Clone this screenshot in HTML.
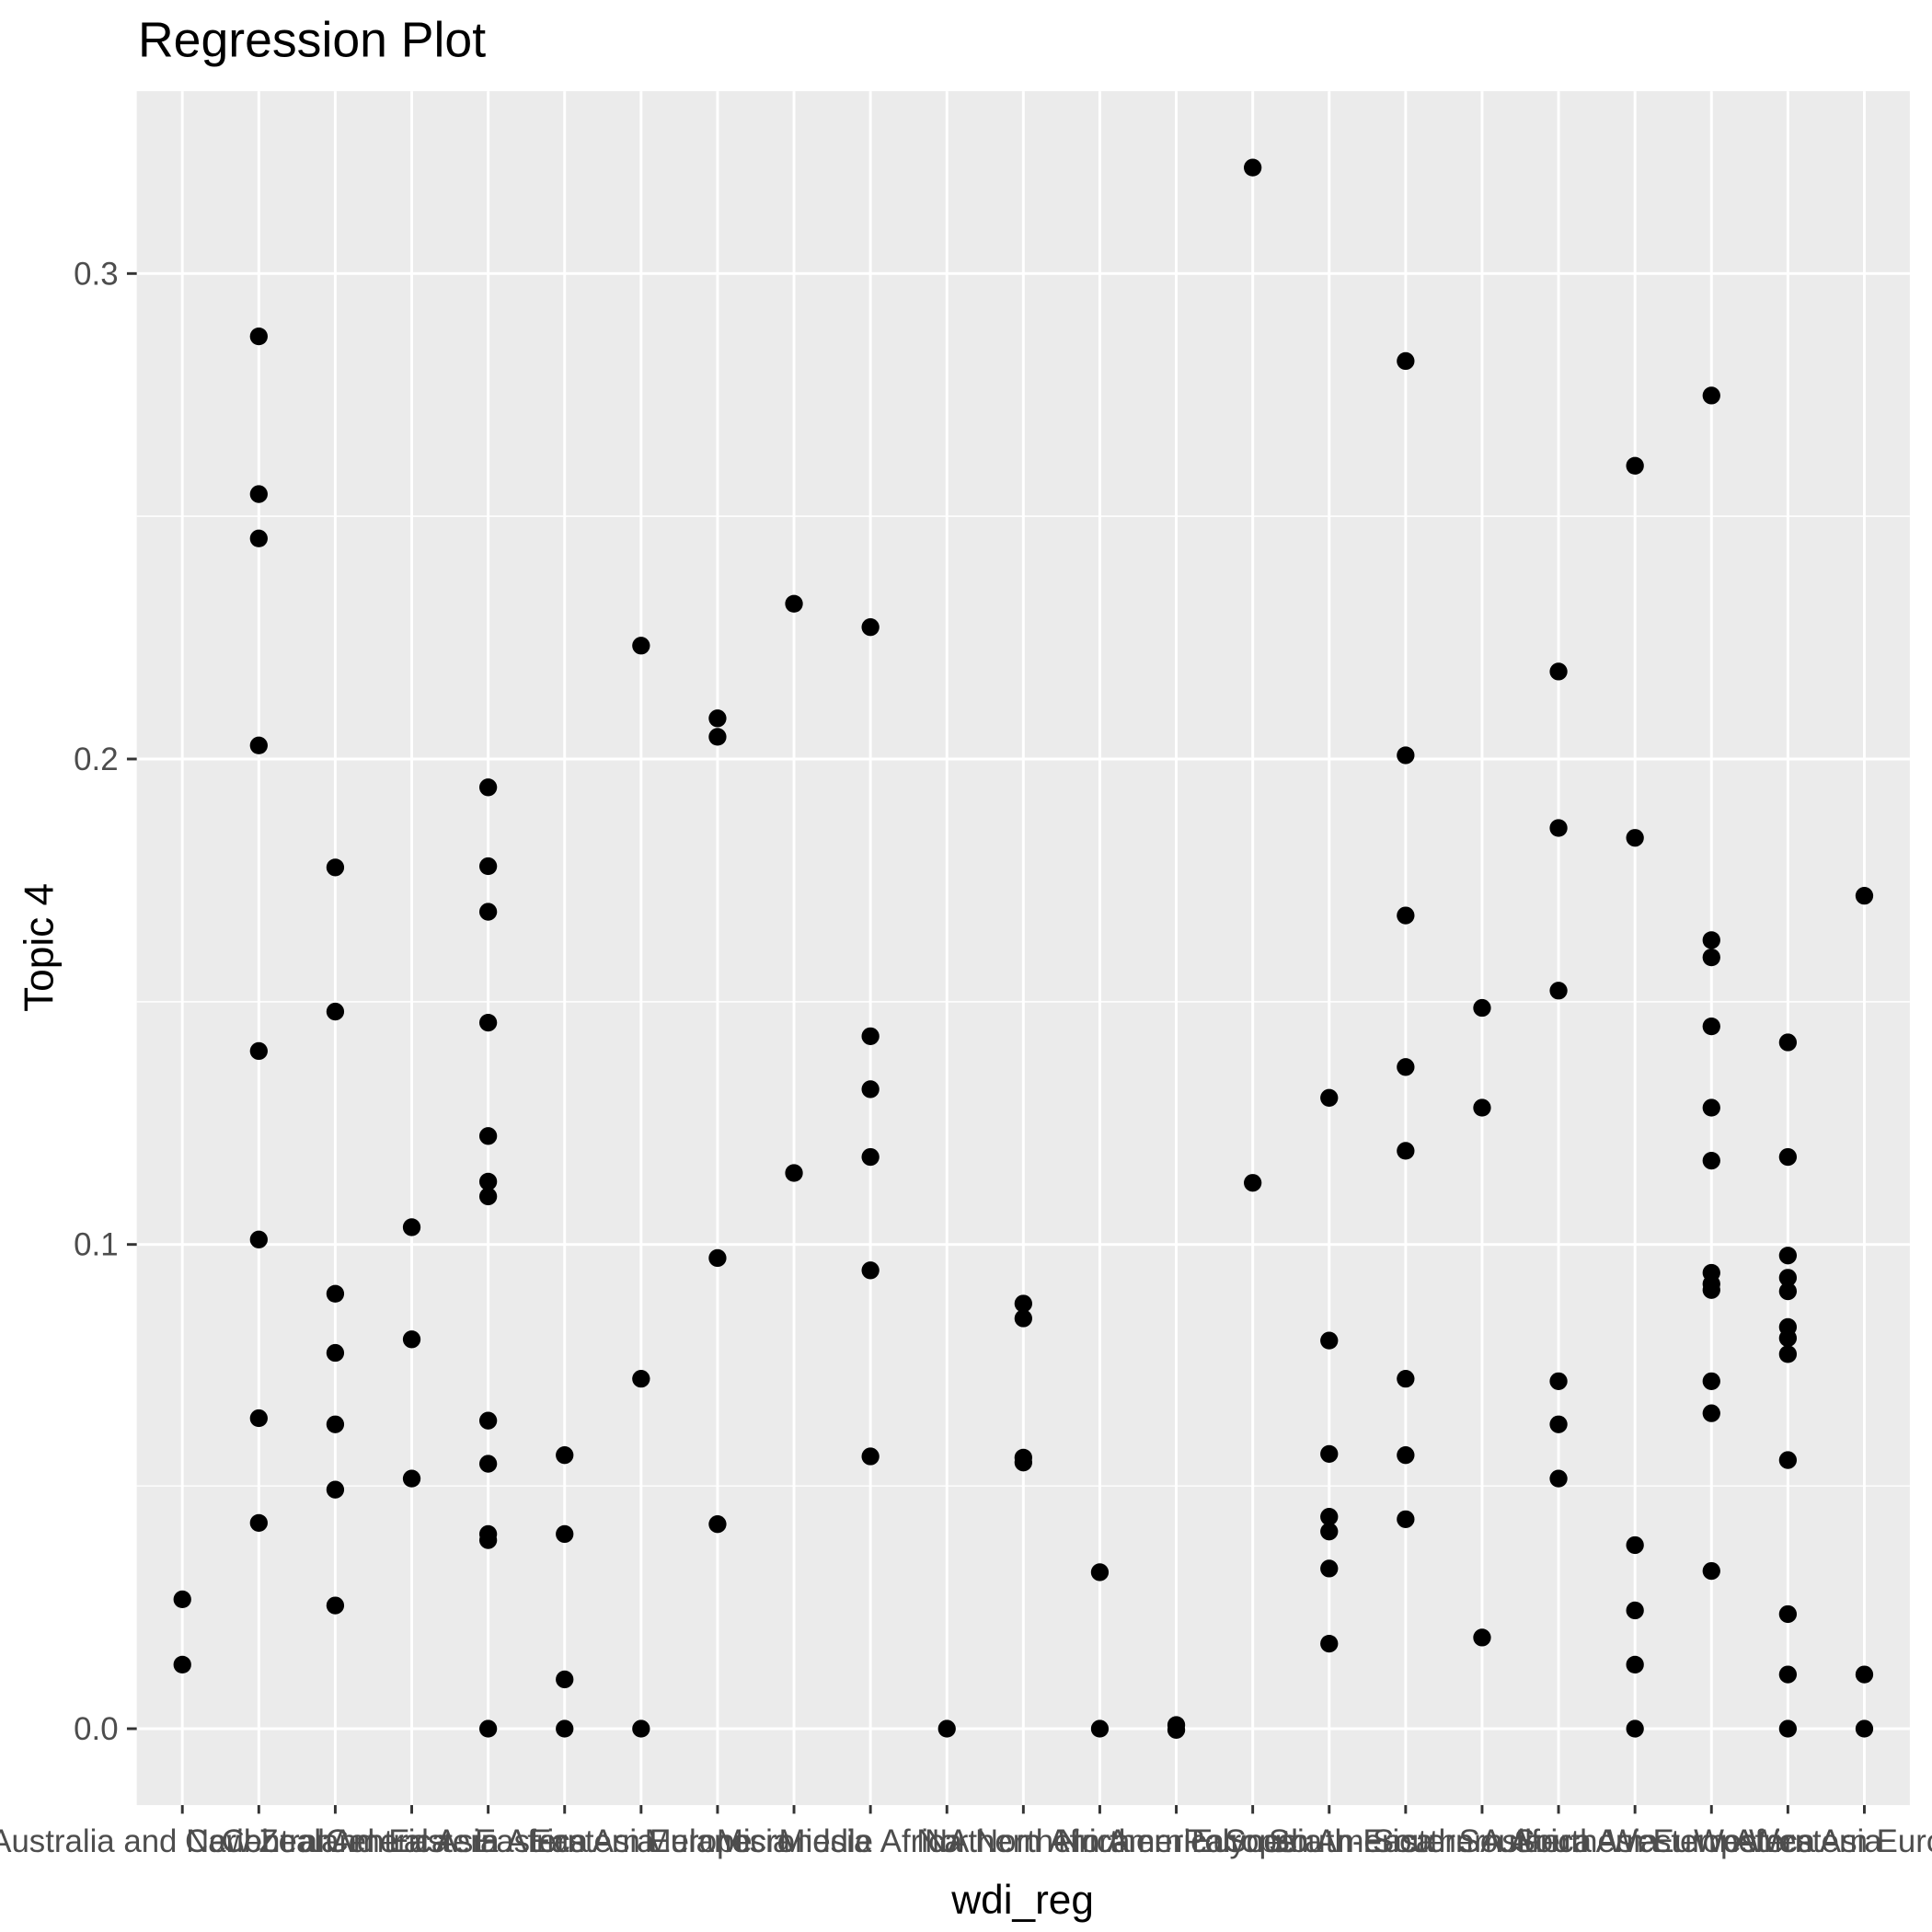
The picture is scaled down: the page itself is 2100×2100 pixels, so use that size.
<!DOCTYPE html>
<html><head><meta charset="utf-8"><style>html,body{margin:0;padding:0;background:#fff}svg{display:block}</style></head>
<body>
<svg width="2100" height="2100" viewBox="0 0 1568 1568" xmlns="http://www.w3.org/2000/svg" font-family="Liberation Sans, Arial, sans-serif">
<rect x="0" y="0" width="1568" height="1568" fill="#fff"/>
<rect x="111" y="74" width="1439" height="1391" fill="#ebebeb"/>
<g stroke="#fff" stroke-width="1.1">
<line x1="111" x2="1550" y1="419" y2="419"/><line x1="111" x2="1550" y1="813" y2="813"/><line x1="111" x2="1550" y1="1206" y2="1206"/>
</g>
<g stroke="#fff" stroke-width="2.2">
<line x1="111" x2="1550" y1="222" y2="222"/><line x1="111" x2="1550" y1="616" y2="616"/><line x1="111" x2="1550" y1="1010" y2="1010"/><line x1="111" x2="1550" y1="1403" y2="1403"/>
</g>
<g id="v" stroke="#fff" stroke-width="2.2"></g>
<g id="t" stroke="#333" stroke-width="2.2"></g>
<g id="p" fill="#000"></g>
<g font-size="26" fill="#4d4d4d" text-anchor="end">
<text x="96" y="231">0.3</text><text x="96" y="625">0.2</text><text x="96" y="1019">0.1</text><text x="96" y="1412">0.0</text>
</g>
<g stroke="#333" stroke-width="2.2"><line x1="103" x2="111" y1="222" y2="222"/><line x1="103" x2="111" y1="616" y2="616"/><line x1="103" x2="111" y1="1010" y2="1010"/><line x1="103" x2="111" y1="1403" y2="1403"/></g>
<g id="xl" font-size="26" fill="#4d4d4d" text-anchor="middle"></g>
<text x="830" y="1553" font-size="33" text-anchor="middle" fill="#000">wdi_reg</text>
<text x="0" y="0" font-size="33" text-anchor="middle" fill="#000" transform="translate(43,769) rotate(-90)">Topic 4</text>
<text x="112" y="46" font-size="40" fill="#000">Regression Plot</text>
<script>
var xs=[],ns="http://www.w3.org/2000/svg";for(var i=0;i<23;i++)xs.push(148+i*62.05);
var names=["Australia and New Zealand","Caribbean","Central America","Central Asia","Eastern Africa","Eastern Asia","Eastern Europe","Melanesia","Micronesia","Middle Africa","NA","Northern Africa","Northern America","Northern Europe","Polynesia","South America","South-Eastern Asia","Southern Africa","Southern Asia","Southern Europe","Western Africa","Western Asia","Western Europe"];
var d=[[1298,1351],[273,401,437,605,853,1006,1151,1236],[704,821,1050,1098,1156,1209,1303],[996,1087,1200],[639,703,740,830,922,959,971,1153,1188,1245,1250,1403],[1181,1245,1363,1403],[524,1119,1403],[583,598,1021,1237],[490,952],[509,841,884,939,1031,1182],[1403],[1058,1070,1183,1187],[1276,1403],[1400,1404],[136,960],[891,1088,1180,1231,1243,1273,1334],[293,613,743,866,934,1119,1181,1233],[818,899,1329],[545,672,804,1121,1156,1200],[378,680,1254,1307,1351,1403],[321,763,777,833,899,942,1033,1042,1047,1121,1147,1275],[846,939,1019,1037,1048,1077,1086,1099,1185,1310,1359,1403],[727,1359,1403]];
function el(n,a,p){var e=document.createElementNS(ns,n);for(var k in a)e.setAttribute(k,a[k]);p.appendChild(e);return e;}
var v=document.getElementById('v'),t=document.getElementById('t'),p=document.getElementById('p'),xl=document.getElementById('xl');
for(var i=0;i<23;i++){var x=xs[i];el('line',{x1:x,x2:x,y1:74,y2:1465},v);el('line',{x1:x,x2:x,y1:1465,y2:1472},t);
var tx=el('text',{x:x,y:1503},xl);tx.textContent=names[i];
d[i].forEach(function(y){el('circle',{cx:x,cy:y,r:7.2},p);});}
</script>
</svg>
</body></html>
